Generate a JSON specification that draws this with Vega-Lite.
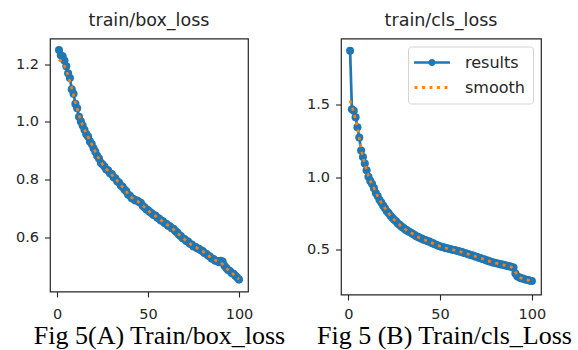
{
  "$schema": "https://vega.github.io/schema/vega-lite/v6.json",
  "background": "white",
  "padding": {"left": 14, "top": 10.5, "right": 0, "bottom": 0},
  "spacing": 93,
  "bounds": "flush",
  "datasets": {
    "box": [
      {"epoch":1,"results":1.248,"smooth":1.215},{"epoch":2,"results":1.23,"smooth":1.21},{"epoch":3,"results":1.227,"smooth":1.203},{"epoch":4,"results":1.212,"smooth":1.193},{"epoch":5,"results":1.192,"smooth":1.178},
      {"epoch":6,"results":1.168,"smooth":1.16},{"epoch":7,"results":1.152,"smooth":1.138},{"epoch":8,"results":1.113,"smooth":1.116},{"epoch":9,"results":1.097,"smooth":1.093},{"epoch":10,"results":1.063,"smooth":1.068},
      {"epoch":11,"results":1.047,"smooth":1.046},{"epoch":12,"results":1.018,"smooth":1.024},{"epoch":13,"results":1.002,"smooth":1.005},{"epoch":14,"results":0.988,"smooth":0.989},{"epoch":15,"results":0.973,"smooth":0.974},
      {"epoch":16,"results":0.958,"smooth":0.96},{"epoch":17,"results":0.95,"smooth":0.948},{"epoch":18,"results":0.933,"smooth":0.935},{"epoch":19,"results":0.924,"smooth":0.923},{"epoch":20,"results":0.909,"smooth":0.91},
      {"epoch":21,"results":0.897,"smooth":0.897},{"epoch":22,"results":0.883,"smooth":0.884},{"epoch":23,"results":0.874,"smooth":0.873},{"epoch":24,"results":0.859,"smooth":0.862},{"epoch":25,"results":0.853,"smooth":0.853},
      {"epoch":26,"results":0.846,"smooth":0.845},{"epoch":27,"results":0.836,"smooth":0.838},{"epoch":28,"results":0.833,"smooth":0.831},{"epoch":29,"results":0.823,"smooth":0.825},{"epoch":30,"results":0.82,"smooth":0.818},
      {"epoch":31,"results":0.809,"smooth":0.811},{"epoch":32,"results":0.806,"smooth":0.804},{"epoch":33,"results":0.795,"smooth":0.797},{"epoch":34,"results":0.791,"smooth":0.79},{"epoch":35,"results":0.781,"smooth":0.782},
      {"epoch":36,"results":0.776,"smooth":0.775},{"epoch":37,"results":0.767,"smooth":0.768},{"epoch":38,"results":0.761,"smooth":0.76},{"epoch":39,"results":0.75,"smooth":0.752},{"epoch":40,"results":0.745,"smooth":0.745},
      {"epoch":41,"results":0.737,"smooth":0.739},{"epoch":42,"results":0.734,"smooth":0.734},{"epoch":43,"results":0.729,"smooth":0.73},{"epoch":44,"results":0.729,"smooth":0.727},{"epoch":45,"results":0.724,"smooth":0.723},
      {"epoch":46,"results":0.721,"smooth":0.718},{"epoch":47,"results":0.711,"smooth":0.712},{"epoch":48,"results":0.706,"smooth":0.706},{"epoch":49,"results":0.699,"smooth":0.7},{"epoch":50,"results":0.695,"smooth":0.695},
      {"epoch":51,"results":0.689,"smooth":0.689},{"epoch":52,"results":0.685,"smooth":0.685},{"epoch":53,"results":0.679,"smooth":0.68},{"epoch":54,"results":0.677,"smooth":0.676},{"epoch":55,"results":0.67,"smooth":0.671},
      {"epoch":56,"results":0.667,"smooth":0.666},{"epoch":57,"results":0.66,"smooth":0.661},{"epoch":58,"results":0.658,"smooth":0.657},{"epoch":59,"results":0.651,"smooth":0.652},{"epoch":60,"results":0.649,"smooth":0.648},
      {"epoch":61,"results":0.642,"smooth":0.643},{"epoch":62,"results":0.64,"smooth":0.639},{"epoch":63,"results":0.633,"smooth":0.634},{"epoch":64,"results":0.631,"smooth":0.629},{"epoch":65,"results":0.624,"smooth":0.624},
      {"epoch":66,"results":0.619,"smooth":0.618},{"epoch":67,"results":0.611,"smooth":0.612},{"epoch":68,"results":0.606,"smooth":0.606},{"epoch":69,"results":0.599,"smooth":0.6},{"epoch":70,"results":0.596,"smooth":0.595},
      {"epoch":71,"results":0.589,"smooth":0.59},{"epoch":72,"results":0.587,"smooth":0.586},{"epoch":73,"results":0.58,"smooth":0.581},{"epoch":74,"results":0.577,"smooth":0.576},{"epoch":75,"results":0.57,"smooth":0.572},
      {"epoch":76,"results":0.569,"smooth":0.568},{"epoch":77,"results":0.564,"smooth":0.565},{"epoch":78,"results":0.562,"smooth":0.561},{"epoch":79,"results":0.557,"smooth":0.558},{"epoch":80,"results":0.555,"smooth":0.554},
      {"epoch":81,"results":0.548,"smooth":0.549},{"epoch":82,"results":0.545,"smooth":0.544},{"epoch":83,"results":0.539,"smooth":0.54},{"epoch":84,"results":0.536,"smooth":0.535},{"epoch":85,"results":0.529,"smooth":0.53},
      {"epoch":86,"results":0.527,"smooth":0.526},{"epoch":87,"results":0.521,"smooth":0.523},{"epoch":88,"results":0.52,"smooth":0.52},{"epoch":89,"results":0.516,"smooth":0.518},{"epoch":90,"results":0.521,"smooth":0.515},
      {"epoch":91,"results":0.518,"smooth":0.509},{"epoch":92,"results":0.504,"smooth":0.502},{"epoch":93,"results":0.496,"smooth":0.495},{"epoch":94,"results":0.489,"smooth":0.49},{"epoch":95,"results":0.486,"smooth":0.485},
      {"epoch":96,"results":0.479,"smooth":0.479},{"epoch":97,"results":0.476,"smooth":0.474},{"epoch":98,"results":0.469,"smooth":0.468},{"epoch":99,"results":0.463,"smooth":0.462},{"epoch":100,"results":0.456,"smooth":0.458}
    ],
    "cls": [
      {"epoch":1,"results":1.875,"smooth":1.53},{"epoch":2,"results":1.47,"smooth":1.49},{"epoch":3,"results":1.46,"smooth":1.448},{"epoch":4,"results":1.415,"smooth":1.402},{"epoch":5,"results":1.345,"smooth":1.342},
      {"epoch":6,"results":1.275,"smooth":1.27},{"epoch":7,"results":1.185,"smooth":1.197},{"epoch":8,"results":1.14,"smooth":1.14},{"epoch":9,"results":1.095,"smooth":1.094},{"epoch":10,"results":1.048,"smooth":1.05},
      {"epoch":11,"results":1.003,"smooth":1.009},{"epoch":12,"results":0.975,"smooth":0.975},{"epoch":13,"results":0.953,"smooth":0.951},{"epoch":14,"results":0.925,"smooth":0.924},{"epoch":15,"results":0.892,"smooth":0.895},
      {"epoch":16,"results":0.871,"smooth":0.869},{"epoch":17,"results":0.845,"smooth":0.846},{"epoch":18,"results":0.826,"smooth":0.825},{"epoch":19,"results":0.804,"smooth":0.805},{"epoch":20,"results":0.786,"smooth":0.786},
      {"epoch":21,"results":0.765,"smooth":0.767},{"epoch":22,"results":0.751,"smooth":0.75},{"epoch":23,"results":0.734,"smooth":0.735},{"epoch":24,"results":0.721,"smooth":0.721},{"epoch":25,"results":0.706,"smooth":0.707},
      {"epoch":26,"results":0.696,"smooth":0.695},{"epoch":27,"results":0.681,"smooth":0.682},{"epoch":28,"results":0.671,"smooth":0.671},{"epoch":29,"results":0.659,"smooth":0.66},{"epoch":30,"results":0.651,"smooth":0.65},
      {"epoch":31,"results":0.64,"smooth":0.641},{"epoch":32,"results":0.633,"smooth":0.632},{"epoch":33,"results":0.623,"smooth":0.624},{"epoch":34,"results":0.618,"smooth":0.617},{"epoch":35,"results":0.609,"smooth":0.61},
      {"epoch":36,"results":0.603,"smooth":0.602},{"epoch":37,"results":0.593,"smooth":0.594},{"epoch":38,"results":0.588,"smooth":0.587},{"epoch":39,"results":0.58,"smooth":0.581},{"epoch":40,"results":0.576,"smooth":0.575},
      {"epoch":41,"results":0.569,"smooth":0.57},{"epoch":42,"results":0.566,"smooth":0.565},{"epoch":43,"results":0.559,"smooth":0.56},{"epoch":44,"results":0.557,"smooth":0.555},{"epoch":45,"results":0.549,"smooth":0.55},
      {"epoch":46,"results":0.545,"smooth":0.544},{"epoch":47,"results":0.537,"smooth":0.538},{"epoch":48,"results":0.533,"smooth":0.533},{"epoch":49,"results":0.527,"smooth":0.528},{"epoch":50,"results":0.524,"smooth":0.523},
      {"epoch":51,"results":0.518,"smooth":0.519},{"epoch":52,"results":0.516,"smooth":0.515},{"epoch":53,"results":0.51,"smooth":0.511},{"epoch":54,"results":0.509,"smooth":0.508},{"epoch":55,"results":0.504,"smooth":0.505},
      {"epoch":56,"results":0.503,"smooth":0.502},{"epoch":57,"results":0.498,"smooth":0.499},{"epoch":58,"results":0.497,"smooth":0.496},{"epoch":59,"results":0.492,"smooth":0.493},{"epoch":60,"results":0.491,"smooth":0.49},
      {"epoch":61,"results":0.485,"smooth":0.486},{"epoch":62,"results":0.483,"smooth":0.482},{"epoch":63,"results":0.477,"smooth":0.478},{"epoch":64,"results":0.475,"smooth":0.474},{"epoch":65,"results":0.469,"smooth":0.47},
      {"epoch":66,"results":0.467,"smooth":0.466},{"epoch":67,"results":0.461,"smooth":0.462},{"epoch":68,"results":0.459,"smooth":0.458},{"epoch":69,"results":0.453,"smooth":0.454},{"epoch":70,"results":0.45,"smooth":0.45},
      {"epoch":71,"results":0.444,"smooth":0.445},{"epoch":72,"results":0.442,"smooth":0.441},{"epoch":73,"results":0.435,"smooth":0.437},{"epoch":74,"results":0.433,"smooth":0.432},{"epoch":75,"results":0.426,"smooth":0.428},
      {"epoch":76,"results":0.424,"smooth":0.423},{"epoch":77,"results":0.418,"smooth":0.419},{"epoch":78,"results":0.416,"smooth":0.415},{"epoch":79,"results":0.41,"smooth":0.411},{"epoch":80,"results":0.409,"smooth":0.408},
      {"epoch":81,"results":0.404,"smooth":0.405},{"epoch":82,"results":0.403,"smooth":0.402},{"epoch":83,"results":0.398,"smooth":0.399},{"epoch":84,"results":0.397,"smooth":0.396},{"epoch":85,"results":0.392,"smooth":0.393},
      {"epoch":86,"results":0.391,"smooth":0.39},{"epoch":87,"results":0.386,"smooth":0.387},{"epoch":88,"results":0.385,"smooth":0.383},{"epoch":89,"results":0.379,"smooth":0.378},{"epoch":90,"results":0.377,"smooth":0.366},
      {"epoch":91,"results":0.335,"smooth":0.345},{"epoch":92,"results":0.316,"smooth":0.326},{"epoch":93,"results":0.309,"smooth":0.312},{"epoch":94,"results":0.303,"smooth":0.304},{"epoch":95,"results":0.3,"smooth":0.299},
      {"epoch":96,"results":0.296,"smooth":0.295},{"epoch":97,"results":0.292,"smooth":0.292},{"epoch":98,"results":0.29,"smooth":0.289},{"epoch":99,"results":0.285,"smooth":0.286},{"epoch":100,"results":0.283,"smooth":0.284}
    ]
  },
  "config": {
    "view": {"stroke": "#262626", "strokeWidth": 1.2},
    "axis": {"domain": false, "grid": false, "tickColor": "#262626", "tickSize": 5.5, "tickWidth": 1.1, "labelFont": "DejaVu Sans", "labelFontSize": 14.5, "labelColor": "#262626", "titleFont": "Liberation Serif", "titleFontSize": 26, "titleFontWeight": "normal", "titleColor": "#000000"},
    "title": {"font": "DejaVu Sans", "fontSize": 17.5, "fontWeight": "normal", "color": "#262626", "anchor": "middle", "frame": "group", "baseline": "alphabetic", "offset": 9}
  },
  "hconcat": [
    {
      "width": 198,
      "height": 253,
      "title": "train/box_loss",
      "data": {"name": "box"},
      "layer": [
        {
          "mark": {"type": "line", "color": "#1f77b4", "strokeWidth": 2.7},
          "encoding": {
            "x": {"field": "epoch", "type": "quantitative", "scale": {"domain": [-3.95, 104.95], "nice": false, "zero": false}, "axis": {"values": [0, 50, 100], "labelBaseline": "alphabetic", "labelPadding": 21, "title": "Fig 5(A) Train/box_loss", "titleX": 109, "titleY": 52, "titleBaseline": "alphabetic", "titleAlign": "center"}},
            "y": {"field": "results", "type": "quantitative", "scale": {"domain": [0.415, 1.288], "nice": false, "zero": false}, "axis": {"values": [0.6, 0.8, 1.0, 1.2], "format": ".1f", "labelPadding": 6, "title": null}}
          }
        },
        {
          "mark": {"type": "point", "filled": true, "shape": "circle", "size": 65, "color": "#1f77b4", "opacity": 1},
          "encoding": {
            "x": {"field": "epoch", "type": "quantitative"},
            "y": {"field": "results", "type": "quantitative"}
          }
        },
        {
          "mark": {"type": "line", "color": "#ff7f0e", "strokeWidth": 2.7, "strokeDash": [3, 4.5]},
          "encoding": {
            "x": {"field": "epoch", "type": "quantitative"},
            "y": {"field": "smooth", "type": "quantitative"}
          }
        }
      ]
    },
    {
      "width": 200,
      "height": 256,
      "title": "train/cls_loss",
      "layer": [
        {
          "data": {"name": "cls"},
          "mark": {"type": "line", "color": "#1f77b4", "strokeWidth": 2.7},
          "encoding": {
            "x": {"field": "epoch", "type": "quantitative", "scale": {"domain": [-3.95, 104.95], "nice": false, "zero": false}, "axis": {"values": [0, 50, 100], "labelBaseline": "alphabetic", "labelPadding": 18, "title": "Fig 5 (B) Train/cls_Loss", "titleX": 103, "titleY": 49, "titleBaseline": "alphabetic", "titleAlign": "center"}},
            "y": {"field": "results", "type": "quantitative", "scale": {"domain": [0.19, 1.959], "nice": false, "zero": false}, "axis": {"values": [0.5, 1.0, 1.5], "format": ".1f", "labelPadding": 6, "title": null}}
          }
        },
        {
          "data": {"name": "cls"},
          "mark": {"type": "point", "filled": true, "shape": "circle", "size": 65, "color": "#1f77b4", "opacity": 1},
          "encoding": {
            "x": {"field": "epoch", "type": "quantitative"},
            "y": {"field": "results", "type": "quantitative"}
          }
        },
        {
          "data": {"name": "cls"},
          "mark": {"type": "line", "color": "#ff7f0e", "strokeWidth": 2.7, "strokeDash": [3, 4.5]},
          "encoding": {
            "x": {"field": "epoch", "type": "quantitative"},
            "y": {"field": "smooth", "type": "quantitative"}
          }
        },
        {
          "data": {"values": [{"series": "results"}, {"series": "smooth"}]},
          "transform": [{"filter": "false"}],
          "mark": {"type": "point", "filled": true},
          "encoding": {
            "color": {"field": "series", "type": "nominal", "scale": {"domain": ["results", "smooth"], "range": ["#1f77b4", "#ff7f0e"]},
              "legend": {"title": null, "orient": "none", "legendX": 358, "legendY": 8, "symbolSize": 196, "symbolStrokeWidth": 0, "symbolOpacity": 1, "symbolOffset": 8, "labelOffset": 25, "labelFont": "DejaVu Sans", "labelFontSize": 16, "labelColor": "#262626", "padding": 8, "rowPadding": 9, "strokeColor": "#d4d4d4", "fillColor": "#ffffff", "cornerRadius": 3}},
            "shape": {"field": "series", "type": "nominal", "scale": {"domain": ["results", "smooth"], "range": ["M-2.571,-0.193L2.571,-0.193L2.571,0.193L-2.571,0.193Z M0.514,0A0.514,0.514,0,1,1,-0.514,0A0.514,0.514,0,1,1,0.514,0Z", "M-2.486,-0.2h0.4v0.4h-0.4Z M-1.414,-0.2h0.4v0.4h-0.4Z M-0.343,-0.2h0.4v0.4h-0.4Z M0.729,-0.2h0.4v0.4h-0.4Z M1.8,-0.2h0.4v0.4h-0.4Z"]},
              "legend": {"title": null, "orient": "none", "legendX": 358, "legendY": 8, "symbolSize": 196, "symbolStrokeWidth": 0, "symbolOpacity": 1, "symbolOffset": 8, "labelOffset": 25, "labelFont": "DejaVu Sans", "labelFontSize": 16, "labelColor": "#262626", "padding": 8, "rowPadding": 9, "strokeColor": "#d4d4d4", "fillColor": "#ffffff", "cornerRadius": 3}}
          }
        }
      ]
    }
  ]
}
